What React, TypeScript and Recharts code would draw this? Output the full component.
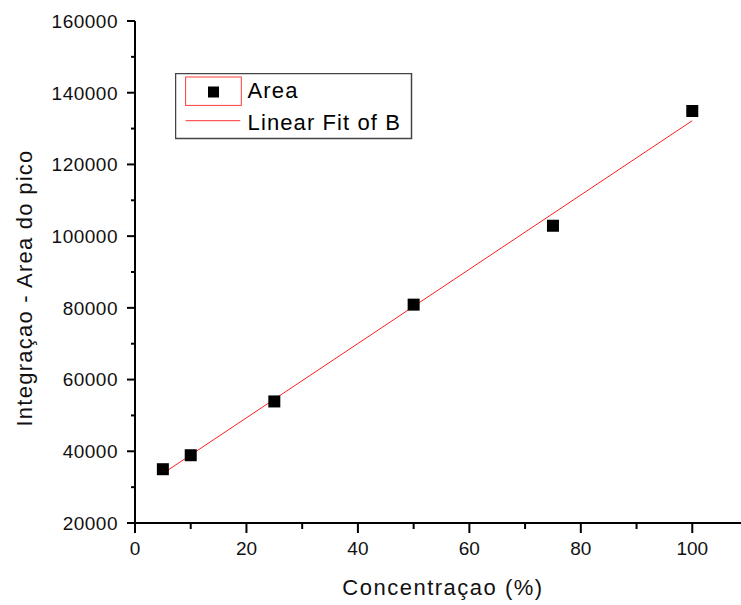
import React from "react";
import {
  ComposedChart,
  Scatter,
  Line,
  XAxis,
  YAxis,
  Legend,
  Label,
} from "recharts";

// concentration (%) vs integrated peak area
const concentrations = [5, 10, 25, 50, 75, 100];
const areaValues = [35000, 38900, 53900, 80900, 102900, 134900];

// linear fit endpoints
const fitX = [5, 100];
const fitY = [33800, 132200];

const xTicks = [0, 10, 20, 30, 40, 50, 60, 70, 80, 90, 100, 110];
const yTicks = [
  20000, 30000, 40000, 50000, 60000, 70000, 80000, 90000, 100000, 110000,
  120000, 130000, 140000, 150000, 160000,
];

const FONT = '"Liberation Sans", Arial, sans-serif';

const points = concentrations.map((x, i) => ({ x, y: areaValues[i] }));
const fitData = fitX.map((x, i) => ({ x, y: fitY[i] }));

const YTick = (props: any) => {
  const { x, y, payload } = props;
  const major = payload.value % 20000 === 0;
  return (
    <g>
      <line x1={x} x2={x - (major ? 8 : 4)} y1={y} y2={y} stroke="#000" strokeWidth={2} />
      {major && (
        <text
          x={x - 17}
          y={y}
          dy={6.8}
          textAnchor="end"
          fontFamily={FONT}
          fontSize={19}
          letterSpacing={0.5}
          fill="#111"
        >
          {payload.value}
        </text>
      )}
    </g>
  );
};

const XTick = (props: any) => {
  const { x, y, payload } = props;
  const major = payload.value % 20 === 0;
  return (
    <g>
      <line x1={x} x2={x} y1={y} y2={y + (major ? 10 : 6)} stroke="#000" strokeWidth={2} />
      {major && (
        <text
          x={x}
          y={y + 31.5}
          textAnchor="middle"
          fontFamily={FONT}
          fontSize={19}
          fill="#111"
        >
          {payload.value}
        </text>
      )}
    </g>
  );
};

const SquareDot = (props: any) => {
  const { cx, cy } = props;
  return <rect x={cx - 6} y={cy - 6} width={12} height={12} fill="#000" />;
};

const LegendBox = () => (
  <svg width={238} height={67} style={{ display: "block" }}>
    <rect x={0.5} y={0.5} width={236} height={65} fill="#fff" stroke="#444" strokeWidth={1.5} />
    <rect x={10.6} y={4} width={55.7} height={28.4} fill="none" stroke="#ff3b3b" strokeWidth={1} />
    <rect x={33} y={13.5} width={11} height={11} fill="#000" />
    <text x={72.6} y={25} fontFamily={FONT} fontSize={22} letterSpacing={1.1} fill="#000">
      Area
    </text>
    <line x1={10.6} x2={65.3} y1={47.7} y2={47.7} stroke="#ff3030" strokeWidth={1} />
    <text x={72.6} y={56.7} fontFamily={FONT} fontSize={22} letterSpacing={1.1} fill="#000">
      Linear Fit of B
    </text>
  </svg>
);

export default function App() {
  return (
    <div
      style={{
        position: "fixed",
        left: 8,
        top: 8,
        width: 733,
        height: 597,
        overflow: "hidden",
        background: "#fff",
      }}
    >
      <ComposedChart
        width={750}
        height={597}
        margin={{ top: 13, right: 10, bottom: 0, left: 0 }}
      >
        <XAxis
          dataKey="x"
          type="number"
          domain={[0, 110]}
          ticks={xTicks}
          interval={0}
          height={82}
          tickSize={0}
          tickMargin={0}
          tickLine={false}
          tick={<XTick />}
          axisLine={{ stroke: "#000", strokeWidth: 2 }}
        >
          <Label
            content={() => (
              <text
                x={435}
                y={587}
                textAnchor="middle"
                fontFamily={FONT}
                fontSize={22}
                letterSpacing={1.5}
                fill="#111"
              >
                Concentraçao (%)
              </text>
            )}
          />
        </XAxis>
        <XAxis
          xAxisId="top"
          orientation="top"
          type="number"
          domain={[0, 110]}
          height={0}
          tick={false}
          tickLine={false}
          axisLine={{ stroke: "#000", strokeWidth: 2 }}
        />
        <YAxis
          type="number"
          domain={[20000, 160000]}
          ticks={yTicks}
          interval={0}
          width={127}
          tickSize={0}
          tickMargin={0}
          tickLine={false}
          tick={<YTick />}
          axisLine={{ stroke: "#000", strokeWidth: 2 }}
        >
          <Label
            content={() => (
              <text
                x={23.7}
                y={280}
                transform="rotate(-90, 23.7, 280)"
                textAnchor="middle"
                fontFamily={FONT}
                fontSize={22}
                letterSpacing={1.25}
                fill="#111"
              >
                Integraçao - Area do pico
              </text>
            )}
          />
        </YAxis>
        <Legend
          layout="vertical"
          verticalAlign="middle"
          align="center"
          content={() => <LegendBox />}
          wrapperStyle={{ position: "absolute", left: 167, top: 65, width: 238, height: 67 }}
        />
        <Line
          data={fitData}
          dataKey="y"
          stroke="#ff2020"
          strokeWidth={1}
          dot={false}
          activeDot={false}
          isAnimationActive={false}
        />
        <Scatter
          data={points}
          dataKey="y"
          shape={<SquareDot />}
          isAnimationActive={false}
        />
      </ComposedChart>
    </div>
  );
}
